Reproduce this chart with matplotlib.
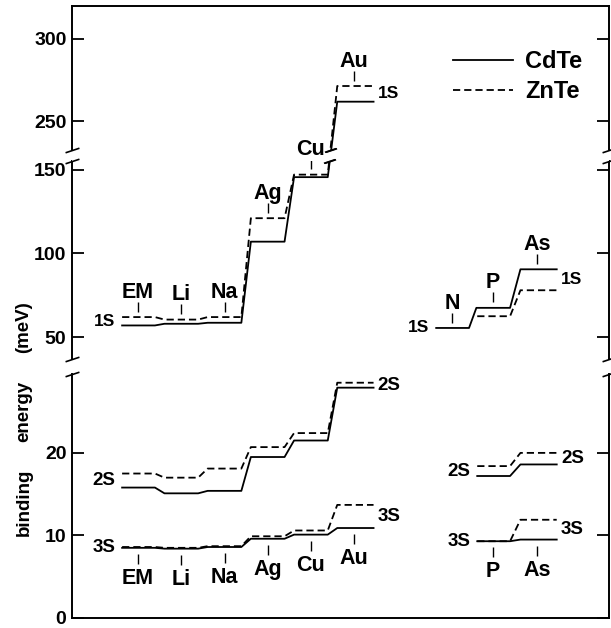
import numpy as np
import matplotlib
matplotlib.use('Agg')
import matplotlib.pyplot as plt
from matplotlib.transforms import offset_copy

plt.rcParams['font.family'] = ['Liberation Sans', 'DejaVu Sans']
plt.rcParams['font.weight'] = 'bold'

# acceptor binding energies in meV (group I / IB on the left, group V on the right)
left_names = ['EM', 'Li', 'Na', 'Ag', 'Cu', 'Au']
cdte_1s_left = [57.0, 58.0, 58.6, 107.0, 145.5, 262.0]
znte_1s_left = [62.0, 60.5, 62.0, 121.0, 147.0, 271.5]
cdte_2s_left = [15.8, 15.1, 15.4, 19.5, 21.5, 27.9]
znte_2s_left = [17.5, 17.0, 18.1, 20.7, 22.4, 28.5]
cdte_3s_left = [8.5, 8.4, 8.6, 9.6, 10.1, 10.9]
znte_3s_left = [8.6, 8.5, 8.7, 9.9, 10.6, 13.7]

right_names = ['N', 'P', 'As']
cdte_1s_right = [55.5, 67.5, 90.5]
znte_1s_right = [np.nan, 62.5, 78.0]
cdte_2s_right = [np.nan, 17.2, 18.6]
znte_2s_right = [np.nan, 18.4, 20.0]
cdte_3s_right = [np.nan, 9.3, 9.5]
znte_3s_right = [np.nan, 9.3, 11.9]

left_x = np.arange(len(left_names), dtype=float)
right_x = np.array([7.27, 8.22, 9.24])

# broken energy axis: 0-30, 37-155 and 232.5-320 meV
brk_val = [-100, 0, 30, 37, 155, 232.5, 320, 420]
brk_pos = [-835, 0, 250.5, 262, 462, 473, 619, 785]


def fwd(y):
    return np.interp(y, brk_val, brk_pos)


def inv(p):
    return np.interp(p, brk_pos, brk_val)


HW, START, END = 0.39, 0.37, 0.45


def step_path(xc, vals):
    pts = [(x, v) for x, v in zip(xc, vals) if not np.isnan(v)]
    xs, ys = [], []
    for i, (x, v) in enumerate(pts):
        xs += [x - (START if i == 0 else HW), x + (END if i == len(pts) - 1 else HW)]
        ys += [v, v]
    return xs, ys


fig = plt.figure(figsize=(6.11, 6.28), dpi=100)
ax = fig.add_axes([72 / 611, 10 / 628, 537 / 611, 612 / 628])
ax.set_yscale('function', functions=(fwd, inv))
ax.set_ylim(0, 320)
ax.set_xlim(-1.53, 10.9)

solid = dict(color='k', lw=1.3, ls='-')
dashed = dict(color='k', lw=1.3, ls=(0, (4, 2.2)))

groups = [
    (left_x, [cdte_1s_left, cdte_2s_left, cdte_3s_left], [znte_1s_left, znte_2s_left, znte_3s_left]),
    (right_x, [cdte_1s_right, cdte_2s_right, cdte_3s_right], [znte_1s_right, znte_2s_right, znte_3s_right]),
]
h_cd = h_zn = None
for xc, cd_levels, zn_levels in groups:
    for cd, zn in zip(cd_levels, zn_levels):
        h_cd, = ax.plot(*step_path(xc, cd), **solid)
        h_zn, = ax.plot(*step_path(xc, zn), **dashed)

# blank out the lines inside the upper axis break and mark the cut
ax.axhspan(155, 232.5, color='white', lw=0, zorder=2.5)
brk_mark = dict(marker=[(-1, -0.33), (1, 0.33)], linestyle='none', color='k',
                mew=1.2, zorder=3, clip_on=False)
for vals in (cdte_1s_left, znte_1s_left):
    x1, x2 = left_x[4] + HW, left_x[5] - HW
    p1, p2 = fwd(vals[4]), fwd(vals[5])
    for lev in (155, 232.5):
        t = (fwd(lev) - p1) / (p2 - p1)
        ax.plot([x1 + t * (x2 - x1)], [lev], ms=8, **brk_mark)

# axis sides drawn in pieces with break marks
ax.spines['left'].set_visible(False)
ax.spines['right'].set_visible(False)
for s in ('top', 'bottom'):
    ax.spines[s].set_linewidth(1.4)
yt = ax.get_yaxis_transform()
for xs in (0, 1):
    for lo, hi in [(0, 29.5), (37, 155), (232.5, 320)]:
        ax.plot([xs, xs], [lo, hi], color='k', lw=1.4, transform=yt, clip_on=False)
    ax.plot([xs] * 4, [29.5, 37, 155, 232.5], transform=yt, ms=10, **brk_mark)

ax.set_xticks([])
ax.set_yticks([0, 10, 20, 50, 100, 150, 250, 300])
ax.set_yticklabels(['0', '10', '20', '50', '100', '150', '250', '300'])
ax.tick_params(axis='y', direction='in', length=8.5, width=1.3, right=True,
               labelsize=14, pad=4)

# impurity names above the 1S levels and below the 3S levels
above_tick = offset_copy(ax.transData, fig=fig, y=7.5, units='points')
below_tick = offset_copy(ax.transData, fig=fig, y=-8, units='points')
tick = dict(marker='|', ms=7, mew=1.0, color='k', linestyle='none')

tops = [(left_x, left_names, np.fmax(cdte_1s_left, znte_1s_left)),
        (right_x, right_names, np.fmax(cdte_1s_right, znte_1s_right))]
for xc, names, vals in tops:
    for x, name, v in zip(xc, names, vals):
        ax.plot([x], [v], transform=above_tick, **tick)
        ax.annotate(name, (x, v), xytext=(0, 14), textcoords='offset points',
                    ha='center', va='baseline', fontsize=15.5)

bottoms = [(left_x, left_names, np.fmin(cdte_3s_left, znte_3s_left)),
           (right_x, right_names, np.fmin(cdte_3s_right, znte_3s_right))]
for xc, names, vals in bottoms:
    for x, name, v in zip(xc, names, vals):
        if np.isnan(v):
            continue
        ax.plot([x], [v], transform=below_tick, **tick)
        ax.annotate(name, (x, v), xytext=(0, -14.5), textcoords='offset points',
                    ha='center', va='top', fontsize=15.5)

# state labels at both ends of each ladder
states = ['1S', '2S', '3S']
for xc, cd_levels, zn_levels in groups:
    for st, cd, zn in zip(states, cd_levels, zn_levels):
        pair = np.vstack([cd, zn])
        valid = np.where(~np.all(np.isnan(pair), axis=0))[0]
        i0, i1 = valid[0], valid[-1]
        fs = 12.5 if st == '1S' else 13.5
        ax.annotate(st, (xc[i0] - START, np.nanmean(pair[:, i0])), xytext=(-5, 0),
                    textcoords='offset points', ha='right', va='center', fontsize=fs)
        ax.annotate(st, (xc[i1] + END, np.nanmean(pair[:, i1])), xytext=(3, 0),
                    textcoords='offset points', ha='left', va='center', fontsize=fs)

ax.legend([h_cd, h_zn], ['CdTe', 'ZnTe'], loc='center left',
          bbox_to_anchor=(0.7095, 0.885), frameon=False, fontsize=17,
          handlelength=2.55, handletextpad=0.5, labelspacing=0.3,
          borderpad=0, borderaxespad=0)

for word, yf in [('binding', 0.2006), ('energy', 0.3447), ('(meV)', 0.479)]:
    fig.text(0.039, yf, word, rotation=90, ha='center', va='center', fontsize=13.5)

fig.savefig('out.png', dpi=100)
